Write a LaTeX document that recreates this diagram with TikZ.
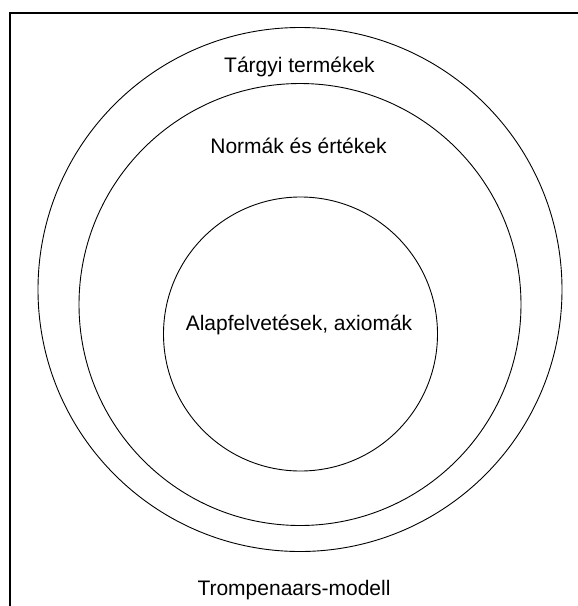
\documentclass[tikz,border=0pt]{standalone}
\usepackage{fontspec}
\setmainfont{Liberation Sans}
\usetikzlibrary{positioning}

\begin{document}
\begin{tikzpicture}[x=1pt, y=-1pt, %
        ring/.style={draw, circle, inner sep=0pt, line width=0.9pt},
        lbl/.style={font=\fontsize{21pt}{24pt}\selectfont, inner sep=0pt, anchor=base}
        ]
        \useasboundingbox (0,0) rectangle (578,606);
        % frame (only top and left edges show)
        \coordinate (fl) at (9.5,606);
        \coordinate (fc) at (9.5,12.5);
        \coordinate (fr) at (578,12.5);
        \draw[line width=2pt] (fl) -- (fc) -- (fr);

        \node[ring, minimum size=524pt] (outer) at (300,289.5) {};
        \node[ring, minimum size=442pt] (middle) at (300,304.5) {};
        \node[ring, minimum size=274pt] (inner) at (300.5,334) {};

        \node[lbl] (targy) at (299.5,72) {Tárgyi termékek};
        \node[lbl] (norma) at (298.5,153) {Normák és értékek};
        \node[lbl] (alap) at (299,330) {Alapfelvetések, axiomák};
        \node[lbl] (modell) at (294,595) {Trompenaars-modell};
      \end{tikzpicture}
\end{document}
